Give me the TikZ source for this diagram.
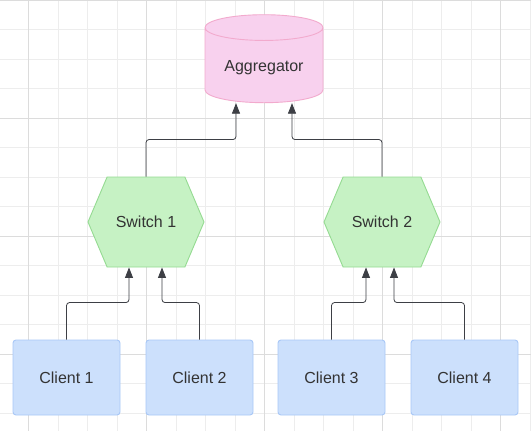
\documentclass[tikz,border=0pt]{standalone}
\usepackage{fontspec}
\setmainfont{Liberation Sans}
\usetikzlibrary{shapes.geometric,shapes.symbols,arrows.meta}
\definecolor{gridminor}{HTML}{EDEDED}
\definecolor{gridmajor}{HTML}{DCDCDC}
\definecolor{aggfill}{HTML}{F8D1EE}
\definecolor{aggline}{HTML}{F2AACD}
\definecolor{swfill}{HTML}{C6F2C4}
\definecolor{swline}{HTML}{95DB92}
\definecolor{clfill}{HTML}{CCE0FC}
\definecolor{clline}{HTML}{A9C8F7}
\definecolor{linkcol}{HTML}{3D3F45}
\definecolor{labelcol}{HTML}{333333}

\begin{document}
\begin{tikzpicture}[x=1pt,y=-1pt,
    every node/.style={text=labelcol, font=\fontsize{16}{19}\selectfont},
    client/.style={draw=clline, fill=clfill, line width=0.9pt, rounded corners=3pt,
                   minimum width=107pt, minimum height=75pt},
    switch/.style={signal, signal to=east and west, signal pointer angle=134,
                   draw=swline, fill=swfill, line width=0.9pt,
                   minimum width=116pt, minimum height=90pt},
    store/.style={cylinder, shape border rotate=90, aspect=0.3,
                  draw=aggline, fill=aggfill, line width=0.9pt,
                  minimum width=118pt, minimum height=88pt},
    link/.style={draw=linkcol, line width=0.8pt, rounded corners=3pt,
                 -{Triangle[length=10.5pt,width=8pt]}}]
\useasboundingbox (0,0) rectangle (531,431);
\fill[white] (0,0) rectangle (531,431);
\foreach \i in {-1,...,17}
    \draw[gridminor, line width=0.8pt] (28.5+29.5*\i,0) -- (28.5+29.5*\i,431);
\foreach \j in {0,...,14}
    \draw[gridminor, line width=0.8pt] (0,29.5*\j) -- (531,29.5*\j);
\foreach \i in {28.5,146.5,264.5,382.5,500.5}
    \draw[gridmajor, line width=0.8pt] (\i,0) -- (\i,431);
\foreach \j in {0,118,236,354}
    \draw[gridmajor, line width=0.8pt] (0,\j) -- (531,\j);

\node[store] (agg) at (264,67.5) {Aggregator};
\node[switch] (sw1) at (146,222) {Switch 1};
\node[switch] (sw2) at (382,222) {Switch 2};
\node[client] (c1) at (66.5,377.5) {Client 1};
\node[client] (c2) at (199.5,377.5) {Client 2};
\node[client] (c3) at (331.5,377.5) {Client 3};
\node[client] (c4) at (464.5,377.5) {Client 4};

\draw[link] (sw1.north) -- ++(0,-37) -| ([xshift=-28pt]agg.south);
\draw[link] (sw2.north) -- ++(0,-37) -| ([xshift=28pt]agg.south);
\draw[link] (c1.north) -- ++(0,-37) -| ([xshift=-17pt]sw1.south);
\draw[link] (c2.north) -- ++(0,-37) -| ([xshift=16pt]sw1.south);
\draw[link] (c3.north) -- ++(0,-37) -| ([xshift=-16pt]sw2.south);
\draw[link] (c4.north) -- ++(0,-37) -| ([xshift=12pt]sw2.south);
\end{tikzpicture}
\end{document}
